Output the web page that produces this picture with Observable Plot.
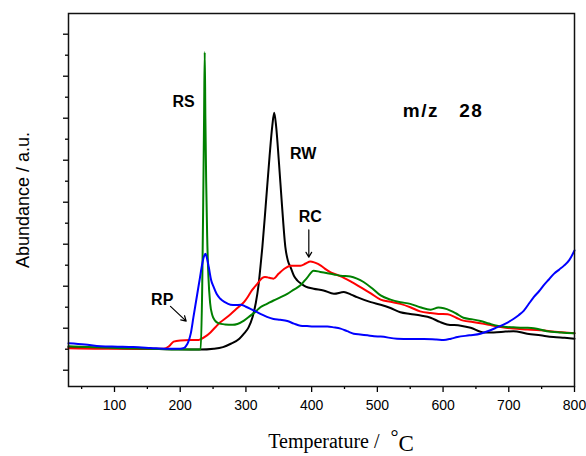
<!DOCTYPE html>
<html>
<head>
<meta charset="utf-8">
<script src="https://cdn.jsdelivr.net/npm/d3@7"></script>
<script src="https://cdn.jsdelivr.net/npm/@observablehq/plot@0.6"></script>
<style>
  html, body { margin: 0; padding: 0; background: #fff; }
</style>
</head>
<body>
<div id="chart"></div>
<script>
// ---- Tick values ----
const xTicks = [100, 200, 300, 400, 500, 600, 700, 800];
const xMinorTicks = [50, 150, 250, 350, 450, 550, 650, 750];
const yTicks = [0, 1, 2, 3, 4, 5, 6, 7, 8];
const yMinorTicks = [0.5, 1.5, 2.5, 3.5, 4.5, 5.5, 6.5, 7.5];

// ---- Series: [temperature °C, abundance a.u.] ----
const RW = [[30,0.55],[80,0.53],[130,0.51],[180,0.50],[230,0.49],[251,0.51],[265,0.55],[277,0.63],[290,0.75],[297,0.87],[304,1.02],[310,1.26],[315,1.6],[319,2.0],[322,2.45],[325,2.93],[330,3.9],[336,5.1],[340,5.8],[343,6.13],[346,5.8],[350,5.0],[355,3.9],[360,2.93],[364,2.6],[368,2.45],[373,2.25],[378,2.14],[385,2.05],[391,1.99],[403,1.94],[418,1.90],[434,1.82],[449,1.86],[460,1.80],[469,1.74],[490,1.62],[505,1.56],[520,1.48],[535,1.38],[550,1.34],[566,1.30],[581,1.25],[595,1.15],[606,1.09],[627,1.06],[642,1.01],[662,0.90],[677,0.90],[695,0.92],[707,0.93],[728,0.87],[748,0.83],[768,0.79],[785,0.77],[800,0.75]];

const RC = [[30,0.52],[80,0.51],[130,0.51],[175,0.51],[183,0.57],[190,0.68],[200,0.71],[215,0.72],[228,0.72],[238,0.80],[246,0.90],[254,1.03],[261,1.14],[270,1.25],[277,1.34],[287,1.48],[297,1.62],[303,1.75],[309,1.90],[317,2.05],[325,2.20],[329,2.22],[333,2.21],[338,2.19],[342,2.18],[350,2.30],[358,2.41],[368,2.49],[383,2.49],[391,2.54],[398,2.59],[405,2.56],[414,2.49],[420,2.42],[429,2.33],[440,2.26],[449,2.20],[462,2.09],[474,1.98],[490,1.83],[505,1.68],[520,1.63],[535,1.58],[550,1.50],[565,1.40],[581,1.36],[593,1.34],[607,1.33],[620,1.25],[631,1.18],[645,1.15],[657,1.12],[670,1.08],[682,1.04],[695,1.01],[707,0.99],[728,0.97],[748,0.95],[775,0.91],[800,0.88]];

const RS = [[30,0.57],[80,0.54],[130,0.52],[180,0.50],[200,0.49],[226,0.49],[231,0.50],[233.5,2.0],[235,4.0],[236.3,6.0],[237.3,7.57],[238.3,6.0],[239.5,4.5],[241,3.2],[243,2.2],[245.5,1.6],[249,1.30],[253,1.18],[258,1.12],[268,1.09],[280,1.08],[287,1.10],[297,1.18],[307,1.30],[315,1.40],[322,1.50],[332,1.58],[342,1.66],[353,1.74],[363,1.82],[373,1.92],[383,2.02],[393,2.20],[403,2.37],[413,2.34],[424,2.31],[434,2.28],[444,2.25],[459,2.23],[469,2.18],[479,2.10],[492,1.95],[505,1.78],[520,1.68],[535,1.62],[550,1.58],[565,1.50],[581,1.44],[593,1.49],[611,1.42],[620,1.35],[631,1.25],[645,1.21],[657,1.17],[670,1.11],[682,1.06],[707,1.02],[725,1.01],[738,1.00],[758,0.93],[780,0.90],[800,0.88]];

const RP = [[30,0.64],[55,0.61],[79,0.57],[105,0.56],[129,0.55],[155,0.53],[180,0.51],[200,0.51],[206,0.53],[209,0.58],[212,0.66],[216,0.87],[220,1.25],[226,1.82],[230,2.2],[233.5,2.53],[236,2.70],[238.5,2.77],[241,2.65],[243.5,2.45],[247,2.15],[251,1.98],[256,1.80],[261,1.70],[268,1.62],[276.5,1.56],[284,1.55],[292,1.56],[300,1.51],[307,1.46],[315,1.40],[322,1.34],[332,1.27],[342,1.22],[352,1.20],[363,1.17],[373,1.11],[383,1.06],[393,1.05],[403,1.04],[414,1.04],[424,1.04],[434,1.02],[444,0.99],[454,0.93],[464,0.87],[474,0.85],[485,0.83],[495,0.81],[505,0.80],[530,0.75],[550,0.74],[571,0.74],[590,0.73],[601,0.72],[612,0.75],[622,0.79],[640,0.83],[657,0.87],[670,0.94],[682,1.02],[695,1.11],[707,1.22],[715,1.31],[723,1.42],[730,1.57],[738,1.74],[746,1.88],[753,2.02],[761,2.16],[769,2.30],[777,2.40],[784,2.49],[792,2.62],[800,2.85]];

const seriesNames = ["RW", "RC", "RS", "RP"];
const seriesColors = ["#000000", "#ff0000", "#008000", "#0000ff"];

// ---- Annotations (data coordinates) ----
const peakLabels = [
  {label: "RS", T: 205, A: 6.38},
  {label: "RW", T: 387, A: 5.15},
  {label: "RC", T: 398, A: 3.64},
  {label: "RP", T: 172.6, A: 1.68}
];
const ionLabel = [{label: "m/z\u00a0\u00a0\u00a028", T: 538.7, A: 6.18}];
const pointers = [
  {T1: 185.2, A1: 1.52, T2: 209.1, A2: 1.17},
  {T1: 395.7, A1: 3.34, T2: 395.7, A2: 2.69}
];

// ---- Build table ----
const seriesData = {RW, RC, RS, RP};
const rows = seriesNames.flatMap(name =>
  seriesData[name].map(([T, A]) => ({series: name, T, A}))
);

const serif = "'Liberation Serif', 'Times New Roman', serif";

const chart = Plot.plot({
  width: 586,
  height: 456,
  marginLeft: 68,
  marginRight: 12,
  marginTop: 13,
  marginBottom: 70,
  x: {domain: [30, 800]},
  y: {domain: [-0.388, 8.493]},
  color: {domain: seriesNames, range: seriesColors},
  style: {
    fontFamily: "'Liberation Sans', Arial, Helvetica, sans-serif",
    fontSize: "14px",
    color: "#000",
    background: "#fff",
    overflow: "visible"
  },
  marks: [
    Plot.axisX({ticks: xTicks, tickSize: 6, tickPadding: 8, label: null, fontSize: 14, strokeWidth: 1.3}),
    Plot.axisX({ticks: xMinorTicks, tickSize: 3, tickFormat: () => "", label: null, strokeWidth: 1.3}),
    Plot.axisY({ticks: yTicks, tickSize: 5, tickFormat: () => "", label: null, strokeWidth: 1.3}),
    Plot.axisY({ticks: yMinorTicks, tickSize: 3, tickFormat: () => "", label: null, strokeWidth: 1.3}),
    Plot.line(rows, {x: "T", y: "A", z: "series", stroke: "series", strokeWidth: 2, curve: "monotone-x"}),
    Plot.frame({stroke: "#111", strokeWidth: 1.5}),
    Plot.text(peakLabels, {x: "T", y: "A", text: "label", fontWeight: "bold", fontSize: 16, fill: "#000"}),
    Plot.text(ionLabel, {x: "T", y: "A", text: "label", fontWeight: "bold", fontSize: 19, textAnchor: "start", fill: "#000"}),
    Plot.arrow(pointers, {x1: "T1", y1: "A1", x2: "T2", y2: "A2", stroke: "#000", strokeWidth: 1.2, headLength: 7}),
    Plot.text(["Abundance / a.u."], {frameAnchor: "left", rotate: -90, dx: -39.5, textAnchor: "middle", lineAnchor: "bottom", fontSize: 18, fill: "#000"}),
    Plot.text(["Temperature /"], {frameAnchor: "bottom-left", dx: 199.7, dy: 61, textAnchor: "start", lineAnchor: "bottom", fontFamily: serif, fontSize: 20, fill: "#000"}),
    Plot.text(["°"], {frameAnchor: "bottom-left", dx: 322, dy: 57, textAnchor: "start", lineAnchor: "bottom", fontFamily: serif, fontSize: 20, fill: "#000"}),
    Plot.text(["C"], {frameAnchor: "bottom-left", dx: 330, dy: 64.5, textAnchor: "start", lineAnchor: "bottom", fontFamily: serif, fontSize: 23, fill: "#000"})
  ]
});

// widen the ion label letter spacing as in the reference
d3.select(chart).selectAll("text")
  .filter(function () { return this.textContent.startsWith("m/z"); })
  .attr("letter-spacing", "1.5px");

document.getElementById("chart").appendChild(chart);
</script>
</body>
</html>
